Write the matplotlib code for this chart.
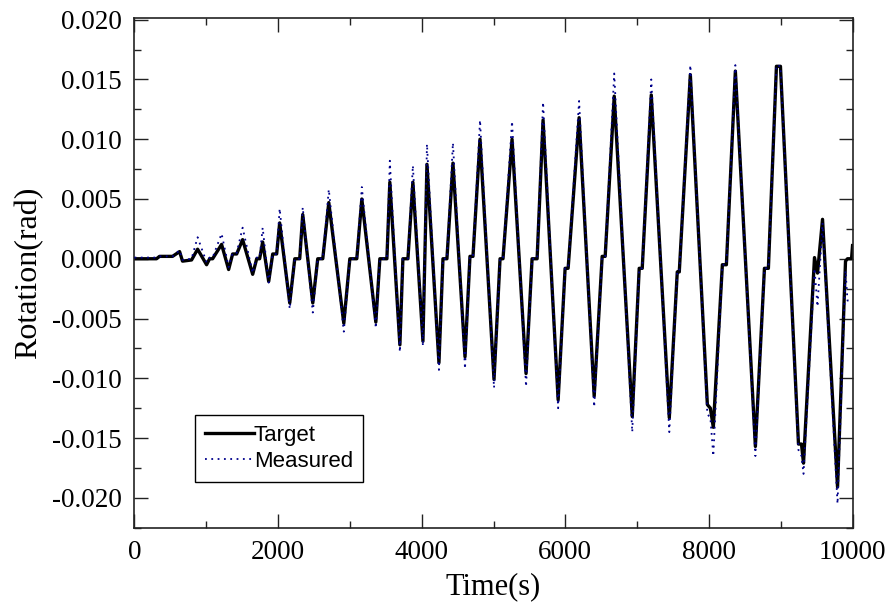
import matplotlib
matplotlib.use("Agg")
import matplotlib.pyplot as plt
from matplotlib.ticker import MultipleLocator, FormatStrFormatter

plt.rcParams["font.family"] = ["Liberation Serif", "DejaVu Serif"]

# ---- data ----
time_s = [0, 307, 349, 530, 628, 669, 795, 879, 1004, 1046, 1088, 1213, 1311, 1367,
          1423, 1506, 1646, 1702, 1743, 1785, 1869, 1925, 1980, 2022, 2162, 2232,
          2301, 2343, 2483, 2552, 2622, 2706, 2915, 2999, 3096, 3166, 3361, 3417,
          3515, 3556, 3696, 3738, 3808, 3877, 4017, 4073, 4240, 4296, 4351, 4435,
          4603, 4672, 4714, 4812, 5007, 5091, 5132, 5258, 5453, 5537, 5607, 5690,
          5900, 5997, 6039, 6192, 6402, 6513, 6555, 6681, 6932, 7029, 7071, 7197,
          7448, 7559, 7587, 7741, 7978, 8020, 8061, 8187, 8243, 8368, 8647, 8773,
          8828, 8940, 8996, 9247, 9289, 9317, 9470, 9512, 9582, 9791, 9902, 9930,
          9986, 10000]

target = [0.0000, 0.0000, 0.0002, 0.0002, 0.0006, -0.0002, -0.0001, 0.0008, -0.0005,
          0.0000, 0.0000, 0.0012, -0.0009, 0.0004, 0.0004, 0.0016, -0.0013, 0.0000,
          0.0000, 0.0014, -0.0019, 0.0004, 0.0004, 0.0030, -0.0037, 0.0000, 0.0000,
          0.0037, -0.0037, 0.0000, 0.0000, 0.0047, -0.0054, 0.0000, 0.0000, 0.0050,
          -0.0053, 0.0000, 0.0000, 0.0064, -0.0072, 0.0000, 0.0000, 0.0064, -0.0069,
          0.0079, -0.0087, 0.0000, 0.0000, 0.0080, -0.0082, 0.0002, 0.0002, 0.0100,
          -0.0101, 0.0000, 0.0000, 0.0100, -0.0096, 0.0000, 0.0000, 0.0116, -0.0118,
          -0.0008, -0.0008, 0.0118, -0.0115, 0.0002, 0.0002, 0.0136, -0.0132, -0.0008,
          -0.0008, 0.0137, -0.0133, -0.0011, -0.0011, 0.0154, -0.0122, -0.0125,
          -0.0141, -0.0005, -0.0005, 0.0157, -0.0157, -0.0008, -0.0008, 0.0161,
          0.0161, -0.0155, -0.0155, -0.0171, 0.0001, -0.0012, 0.0033, -0.0191,
          -0.0002, 0.0000, 0.0000, 0.0011]

measured = [0.0001, 0.0001, 0.0002, 0.0002, 0.0007, -0.0001, 0.0000, 0.0018, -0.0003,
            0.0001, 0.0001, 0.0021, -0.0007, 0.0005, 0.0005, 0.0026, -0.0012, 0.0001,
            0.0001, 0.0026, -0.0020, 0.0004, 0.0004, 0.0042, -0.0042, 0.0000, 0.0000,
            0.0043, -0.0045, 0.0000, 0.0000, 0.0058, -0.0061, 0.0000, 0.0000, 0.0060,
            -0.0058, 0.0000, 0.0000, 0.0082, -0.0078, 0.0000, 0.0000, 0.0078, -0.0073,
            0.0096, -0.0093, 0.0000, 0.0000, 0.0097, -0.0092, 0.0002, 0.0002, 0.0116,
            -0.0108, 0.0000, 0.0000, 0.0115, -0.0107, 0.0000, 0.0000, 0.0131, -0.0125,
            -0.0008, -0.0008, 0.0132, -0.0124, 0.0002, 0.0002, 0.0155, -0.0145, -0.0008,
            -0.0008, 0.0150, -0.0145, -0.0011, -0.0011, 0.0162, -0.0130, -0.0133,
            -0.0165, -0.0005, -0.0005, 0.0162, -0.0165, -0.0008, -0.0008, 0.0162,
            0.0161, -0.0160, -0.0165, -0.0180, -0.0008, -0.0040, 0.0030, -0.0205,
            -0.0010, -0.0035, -0.0035, -0.0035]

x_ticks = [0, 2000, 4000, 6000, 8000, 10000]
y_ticks = [-0.020, -0.015, -0.010, -0.005, 0.000, 0.005, 0.010, 0.015, 0.020]

# ---- figure ----
fig = plt.figure(figsize=(8.93, 6.12), dpi=100)
ax = fig.add_axes([0.1506, 0.1377, 0.8041, 0.8321])

ax.plot(time_s, target, color="black", lw=2.4, label="Target", zorder=2)
ax.plot(time_s, measured, color="#00008B", lw=1.3, linestyle=(0, (1, 2.5)),
        label="Measured", zorder=3)

ax.set_xlim(0, 10000)
ax.set_ylim(-0.0225, 0.0201)
ax.set_xticks(x_ticks)
ax.set_yticks(y_ticks)
ax.xaxis.set_minor_locator(MultipleLocator(1000))
ax.yaxis.set_minor_locator(MultipleLocator(0.0025))
ax.yaxis.set_major_formatter(FormatStrFormatter("%.3f"))

ax.tick_params(which="both", direction="in", top=True, right=True,
               labeltop=False, labelright=False, width=1.0, color="#222222",
               labelfontfamily="Liberation Serif")
ax.tick_params(which="major", length=10, labelsize=19.5, pad=9)
ax.tick_params(which="minor", length=5)

for sp in ax.spines.values():
    sp.set_linewidth(1.2)
    sp.set_color("#222222")

ax.set_xlabel("Time(s)", fontsize=22, labelpad=5)
ax.set_ylabel("Rotation(rad)", fontsize=23, labelpad=6)

leg = ax.legend(loc="upper left", bbox_to_anchor=(0.084, 0.221),
                prop={"family": "Liberation Sans", "size": 16},
                frameon=True, fancybox=False, framealpha=1,
                edgecolor="black", handlelength=2.2, handletextpad=0.0,
                borderpad=0.45, labelspacing=0.2, borderaxespad=0)
leg.get_frame().set_linewidth(1.0)

fig.savefig("out.png", dpi=100)
